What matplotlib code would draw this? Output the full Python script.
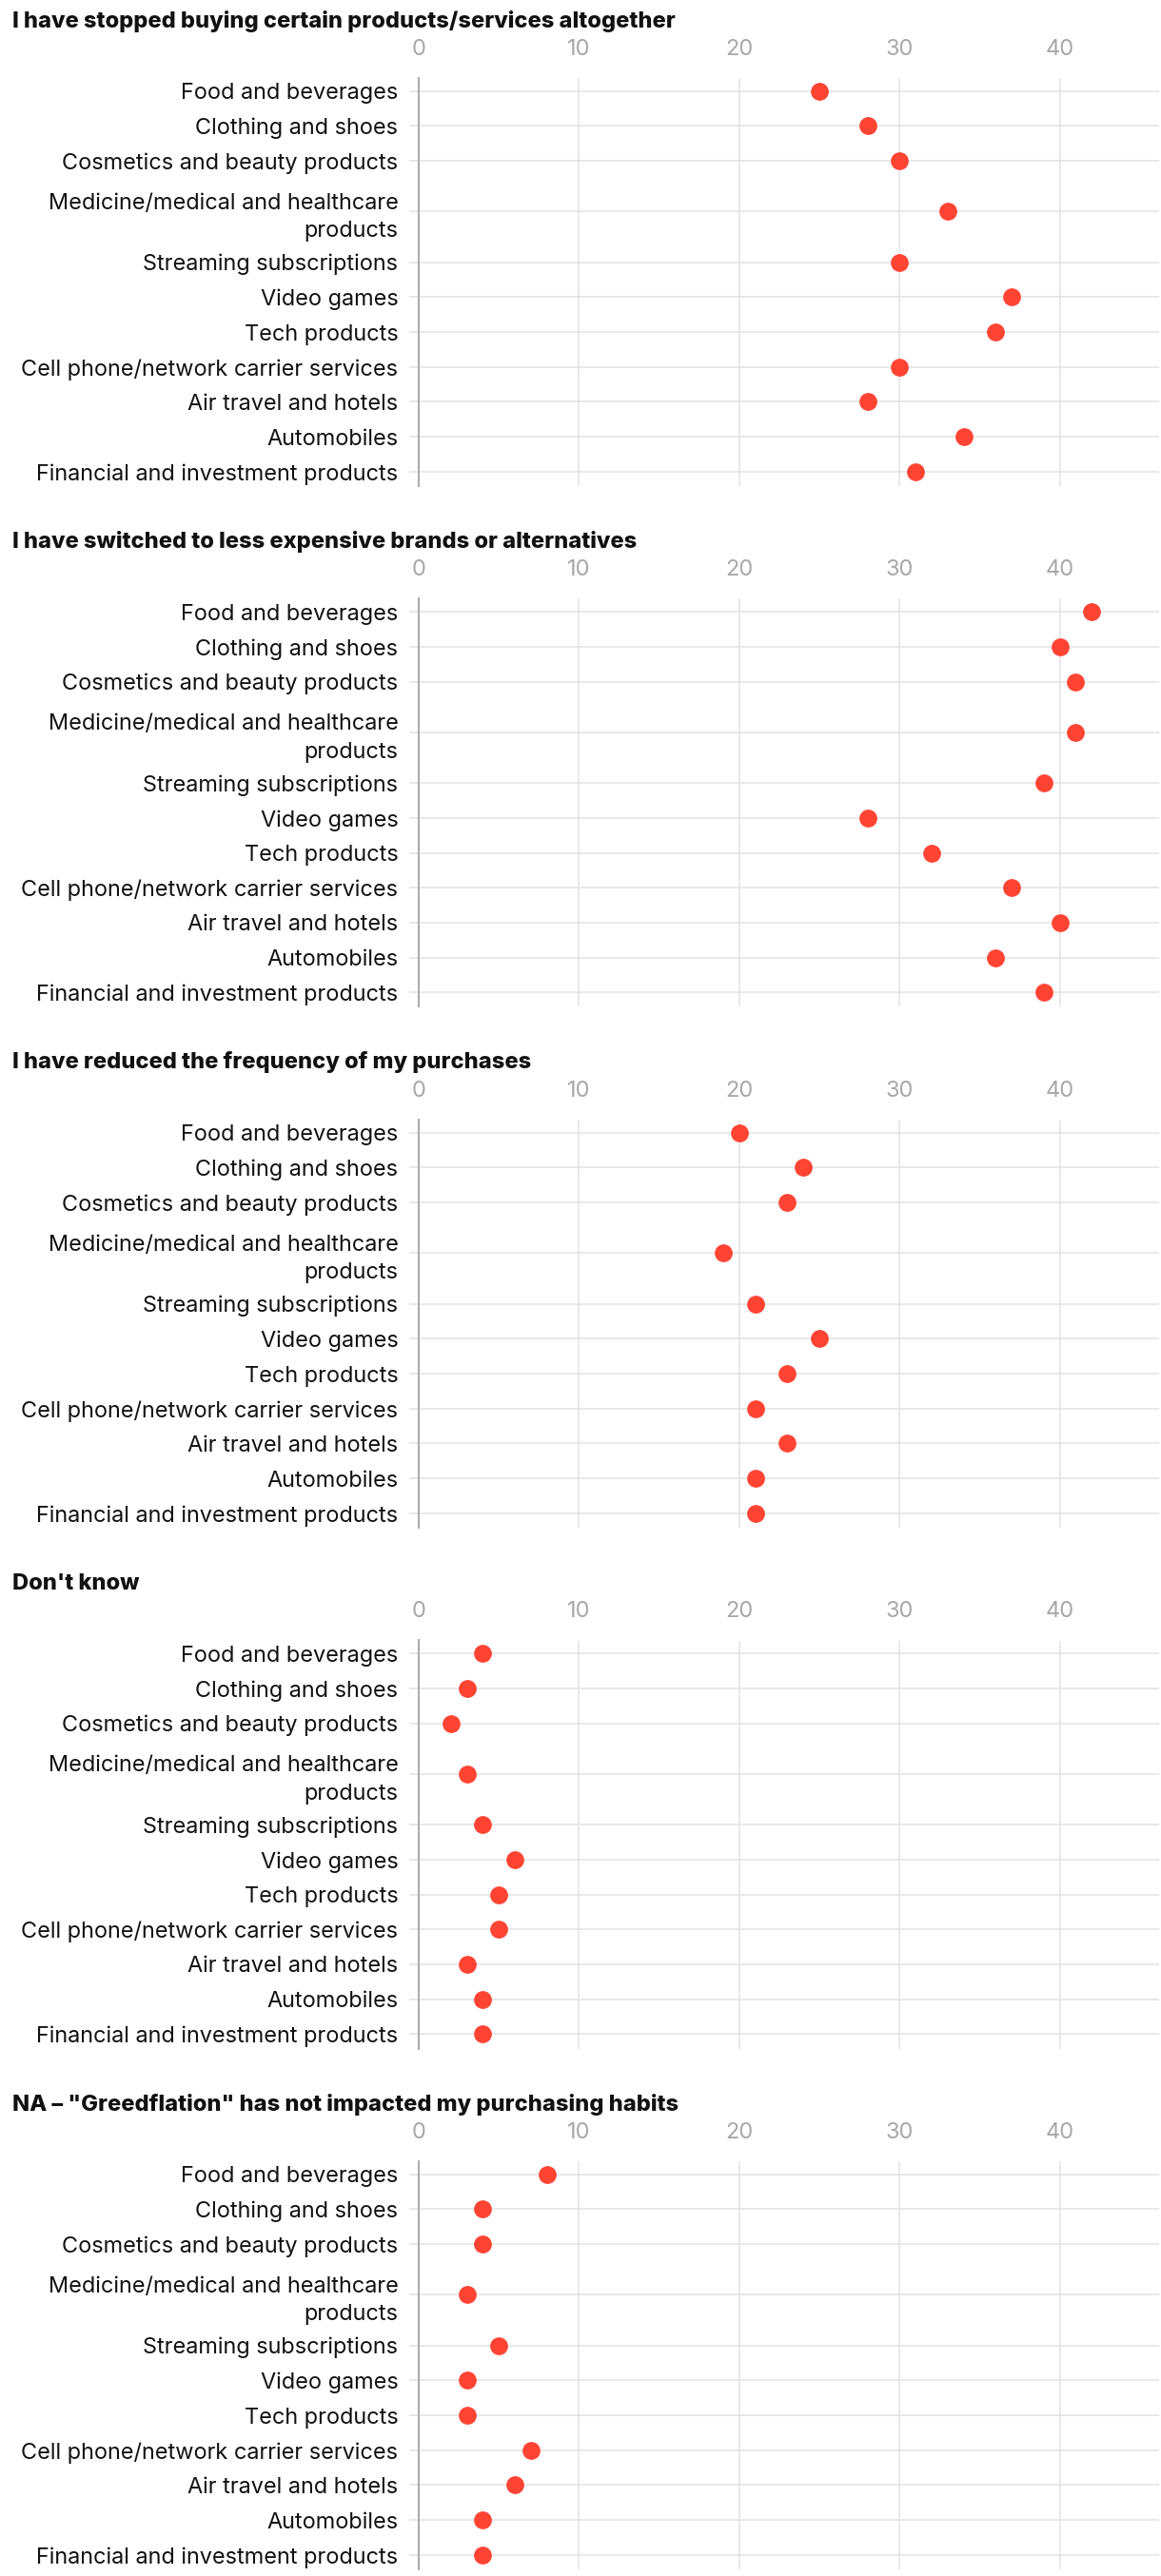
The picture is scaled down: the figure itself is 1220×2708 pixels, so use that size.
import textwrap
import matplotlib
matplotlib.use("Agg")
import matplotlib.pyplot as plt

plt.rcParams['font.family'] = ['Inter', 'DejaVu Sans']

categories = [
    "Food and beverages",
    "Clothing and shoes",
    "Cosmetics and beauty products",
    "Medicine/medical and healthcare products",
    "Streaming subscriptions",
    "Video games",
    "Tech products",
    "Cell phone/network carrier services",
    "Air travel and hotels",
    "Automobiles",
    "Financial and investment products",
]

panel_titles = [
    "I have stopped buying certain products/services altogether",
    "I have switched to less expensive brands or alternatives",
    "I have reduced the frequency of my purchases",
    "Don't know",
    "NA \u2013 \"Greedflation\" has not impacted my purchasing habits",
]

stopped = [25, 28, 30, 33, 30, 37, 36, 30, 28, 34, 31]
switched = [42, 40, 41, 41, 39, 28, 32, 37, 40, 36, 39]
reduced = [20, 24, 23, 19, 21, 25, 23, 21, 23, 21, 21]
dont_know = [4, 3, 2, 3, 4, 6, 5, 5, 3, 4, 4]
not_impacted = [8, 4, 4, 3, 5, 3, 3, 7, 6, 4, 4]

series = [stopped, switched, reduced, dont_know, not_impacted]
x_ticks = [0, 10, 20, 30, 40]

W, H = 1220, 2708
DOT = '#ff4433'
GRID = '#e3e3e3'
AXIS = '#aaaaaa'

fig = plt.figure(figsize=(W / 100, H / 100), dpi=100)

# wrapped labels get taller rows
labels = [textwrap.fill(c, 35) for c in categories]
heights = [1 + 0.9 * lab.count('\n') for lab in labels]
ypos = []
acc = 0
for h in heights:
    ypos.append(acc + h / 2 - 0.5)
    acc += h

step = 547.5
for k, (title, vals) in enumerate(zip(panel_titles, series)):
    top = 22 + step * k  # title centre, px from top
    ax_top = top + 60
    ax_bot = top + 489
    left, right = 440, 1218
    ax = fig.add_axes([left / W, 1 - ax_bot / H, (right - left) / W, (ax_bot - ax_top) / H])

    fig.text(13 / W, 1 - top / H, title, fontsize=17, fontweight='heavy',
             va='center', ha='left', color='#111111')

    ax.plot(vals, ypos, 'o', color=DOT, markersize=13.5, markeredgewidth=0,
            zorder=5, clip_on=False)

    ax.set_xlim(0, 46.2)
    ax.set_ylim(ypos[-1] + 0.41, -0.37)
    ax.set_xticks(x_ticks)
    ax.set_yticks(ypos)
    ax.set_yticklabels(labels, fontsize=16.9, color='#111111', linespacing=1.45,
                       multialignment='right')

    ax.xaxis.set_ticks_position('top')
    ax.tick_params(axis='x', length=0, pad=14, labelsize=17, labelcolor='#a8a8a8')
    ax.tick_params(axis='y', length=7.5, width=1.1, color=GRID, pad=8)

    ax.grid(True, color=GRID, linewidth=1.1, zorder=0)
    ax.set_axisbelow(True)
    for s in ['top', 'right', 'bottom']:
        ax.spines[s].set_visible(False)
    ax.spines['left'].set_color(AXIS)
    ax.spines['left'].set_linewidth(1.4)
    ax.spines['left'].set_zorder(3)

fig.savefig('out.png', dpi=100)
